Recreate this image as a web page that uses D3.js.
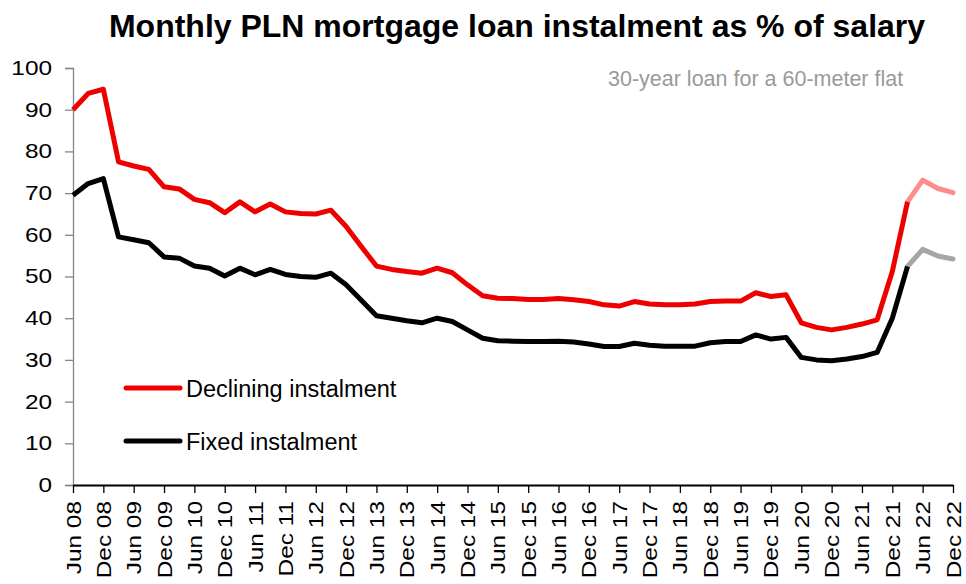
<!DOCTYPE html>
<html>
<head>
<meta charset="utf-8">
<script src="https://cdn.jsdelivr.net/npm/d3@7"></script>
<style>
  body { margin: 0; background: #fff; }
  text { font-family: "Liberation Sans", Arial, sans-serif; }
</style>
</head>
<body>
<div class="chart"></div>
<script>
// quarterly points, Jun 08 .. Dec 22
var quarters = [
  "Jun 08","Sep 08","Dec 08","Mar 09","Jun 09","Sep 09","Dec 09","Mar 10","Jun 10","Sep 10","Dec 10",
  "Mar 11","Jun 11","Sep 11","Dec 11","Mar 12","Jun 12","Sep 12","Dec 12","Mar 13","Jun 13","Sep 13","Dec 13",
  "Mar 14","Jun 14","Sep 14","Dec 14","Mar 15","Jun 15","Sep 15","Dec 15","Mar 16","Jun 16","Sep 16","Dec 16",
  "Mar 17","Jun 17","Sep 17","Dec 17","Mar 18","Jun 18","Sep 18","Dec 18","Mar 19","Jun 19","Sep 19","Dec 19",
  "Mar 20","Jun 20","Sep 20","Dec 20","Mar 21","Jun 21","Sep 21","Dec 21","Mar 22","Jun 22","Sep 22","Dec 22"
];
var tickLabels = ["Jun 08","Dec 08","Jun 09","Dec 09","Jun 10","Dec 10","Jun 11","Dec 11","Jun 12","Dec 12",
  "Jun 13","Dec 13","Jun 14","Dec 14","Jun 15","Dec 15","Jun 16","Dec 16","Jun 17","Dec 17","Jun 18","Dec 18",
  "Jun 19","Dec 19","Jun 20","Dec 20","Jun 21","Dec 21","Jun 22","Dec 22"];

var declining = [90.0,93.9,94.9,77.5,76.5,75.7,71.5,71.0,68.5,67.7,65.3,
  67.9,65.5,67.4,65.5,65.1,65.0,65.9,62.0,57.2,52.5,51.7,51.2,
  50.8,52.0,50.9,48.0,45.4,44.8,44.7,44.5,44.5,44.7,44.4,44.0,
  43.2,42.9,44.0,43.4,43.2,43.2,43.4,44.0,44.1,44.1,46.1,45.2,
  45.6,38.9,37.8,37.2,37.8,38.6,39.6,51.2,67.9,73.1,71.1,70.1];
var fixed = [69.5,72.3,73.5,59.5,58.8,58.1,54.7,54.4,52.5,52.0,50.1,
  52.0,50.4,51.7,50.5,50.0,49.8,50.8,48.0,44.3,40.6,40.0,39.4,
  38.9,40.0,39.2,37.2,35.2,34.6,34.5,34.4,34.4,34.5,34.3,33.8,
  33.2,33.2,34.0,33.5,33.3,33.3,33.3,34.1,34.4,34.4,36.0,35.0,
  35.4,30.6,30.0,29.8,30.2,30.8,31.8,40.0,52.4,56.5,54.9,54.2];
var forecastFrom = "Mar 22"; // lighter colour after this point
var yTicks = [0,10,20,30,40,50,60,70,80,90,100];

var svgWidth = 966, svgHeight = 584;
var margin = { top: 68, right: 13, bottom: 99, left: 73 };
var width = svgWidth - margin.left - margin.right;
var height = svgHeight - margin.top - margin.bottom;
var stretch = 1.22; // axis labels are drawn wide

var svg = d3.select(".chart").append("svg")
  .attr("width", svgWidth).attr("height", svgHeight);

svg.append("text")
  .attr("x", 517).attr("y", 37)
  .attr("text-anchor", "middle")
  .attr("font-size", "32px").attr("font-weight", "bold")
  .text("Monthly PLN mortgage loan instalment as % of salary");

var chartGroup = svg.append("g")
  .attr("transform", `translate(${margin.left}, ${margin.top})`);

var x = d3.scalePoint().domain(quarters).range([0, width]);
var y = d3.scaleLinear().domain([0, 100]).range([height, 0]);

// y axis
var yAxis = chartGroup.append("g")
  .call(d3.axisLeft(y).tickValues(yTicks).tickSize(8).tickFormat(d3.format("d")));
yAxis.select(".domain").attr("stroke", "#868686").attr("stroke-width", 1.3);
yAxis.selectAll(".tick line").attr("stroke", "#868686").attr("stroke-width", 1.3);
yAxis.selectAll("text")
  .attr("font-size", "20px").attr("fill", "#000")
  .attr("font-family", "Liberation Sans, Arial, sans-serif")
  .attr("x", -21 / stretch)
  .attr("transform", `scale(${stretch},1)`);

// x axis
var xAxis = chartGroup.append("g")
  .attr("transform", `translate(0, ${height})`)
  .call(d3.axisBottom(x).tickValues(tickLabels).tickSize(8).tickSizeOuter(0));
xAxis.select(".domain").attr("stroke", "#000").attr("stroke-width", 1.8);
xAxis.selectAll(".tick line").attr("stroke", "#000").attr("stroke-width", 1.3);
xAxis.selectAll("text")
  .attr("font-size", "20px").attr("fill", "#000")
  .attr("font-family", "Liberation Sans, Arial, sans-serif")
  .attr("transform", `rotate(-90) scale(${stretch},1)`)
  .attr("text-anchor", "end")
  .attr("x", -16 / stretch).attr("y", 0).attr("dy", "0.35em");

svg.append("text")
  .attr("x", 608).attr("y", 86)
  .attr("font-size", "21.5px").attr("fill", "#9a9a9a")
  .text("30-year loan for a 60-meter flat");

var line = d3.line().x(d => x(d.q)).y(d => y(d.v));
var cut = quarters.indexOf(forecastFrom);

function drawSeries(vals, color, light) {
  var pts = vals.map((v, i) => ({ q: quarters[i], v: v }));
  chartGroup.append("path")
    .datum(pts.slice(cut))
    .attr("fill", "none").attr("stroke", light)
    .attr("stroke-width", 5).attr("stroke-linejoin", "round").attr("stroke-linecap", "round")
    .attr("d", line);
  chartGroup.append("path")
    .datum(pts.slice(0, cut + 1))
    .attr("fill", "none").attr("stroke", color)
    .attr("stroke-width", 5).attr("stroke-linejoin", "round")
    .attr("d", line);
}
drawSeries(fixed, "#000000", "#a6a6a6");
drawSeries(declining, "#ee0000", "#ff8c8c");

// legend
var legend = [
  { name: "Declining instalment", color: "#ee0000", y: 388 },
  { name: "Fixed instalment", color: "#000000", y: 441 }
];
legend.forEach(function(l) {
  svg.append("line")
    .attr("x1", 126).attr("x2", 180).attr("y1", l.y).attr("y2", l.y)
    .attr("stroke", l.color).attr("stroke-width", 5).attr("stroke-linecap", "round");
  svg.append("text")
    .attr("x", 186).attr("y", l.y + 8.5)
    .attr("font-size", "23.5px")
    .text(l.name);
});
</script>
</body>
</html>
